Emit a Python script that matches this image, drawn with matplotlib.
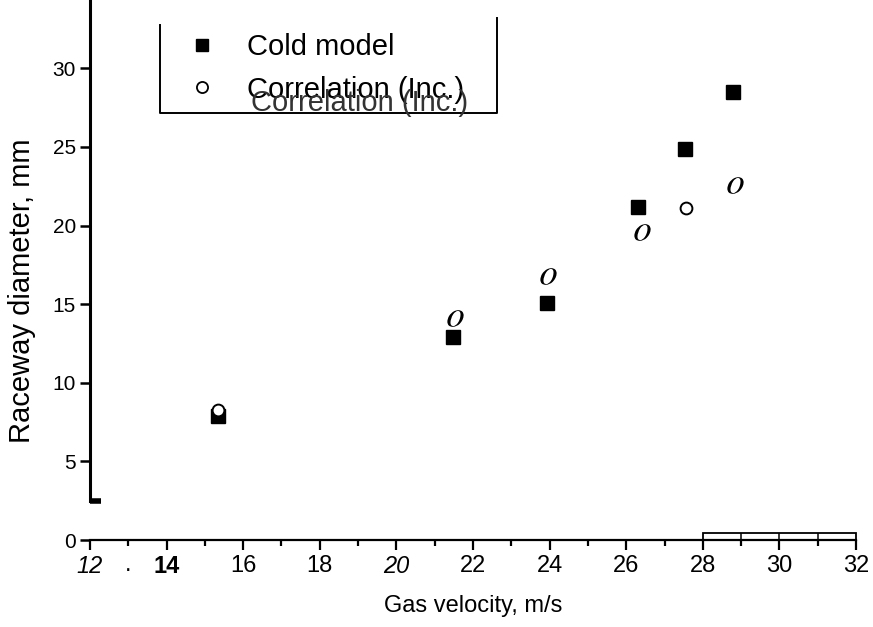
import matplotlib
matplotlib.use('Agg')
import matplotlib.pyplot as plt
from matplotlib.lines import Line2D
from matplotlib.patches import Rectangle

plt.rcParams['font.family'] = ['Liberation Sans', 'DejaVu Sans']
plt.rcParams['mathtext.fontset'] = 'stix'

# ---- data ----
velocity_cold = [15.34, 21.48, 23.93, 26.31, 27.53, 28.79]
diameter_cold = [7.9, 12.9, 15.05, 21.2, 24.85, 28.5]
velocity_corr = [15.34, 21.53, 23.96, 26.41, 27.56, 28.84]
diameter_corr = [8.3, 14.1, 16.8, 19.6, 21.1, 22.56]
series_labels = ['Cold model', 'Correlation (Inc.)']
x_major = [12, 14, 16, 18, 20, 22, 24, 26, 28, 30, 32]
x_major_labels = ['12', '14', '16', '18', '20', '22', '24', '26', '28', '30', '32']
x_minor = [13, 15, 17, 19, 21, 23, 25, 27, 29, 31]
x_minor_labels = ['.', '', '', '', '', '', '', '', '', '']
y_major = [0, 5, 10, 15, 20, 25, 30]
x_label = 'Gas velocity, m/s'
y_label = 'Raceway diameter, mm'

# marker style per correlation point (scan shows some as italic "o")
corr_markers = ['o', '$o$', '$o$', '$o$', 'o', '$o$']

W, H = 873, 627
fig = plt.figure(figsize=(W / 100, H / 100), dpi=100)
ax = fig.add_axes([90 / W, 1 - 540 / H, (856 - 90) / W, 540 / H])
ax.set_xlim(12, 32)
ax.set_ylim(0, 34.35)

# data
ax.plot(velocity_cold, diameter_cold, linestyle='none', marker='s',
        markersize=9.5, color='black', zorder=3)
for xv, yv, m in zip(velocity_corr, diameter_corr, corr_markers):
    if m == 'o':
        ax.plot([xv], [yv], linestyle='none', marker='o', markersize=8.5,
                markerfacecolor='white', markeredgecolor='black',
                markeredgewidth=1.4, zorder=4)
    else:
        ax.plot([xv], [yv], linestyle='none', marker=m, markersize=12,
                markerfacecolor='black', markeredgecolor='black',
                markeredgewidth=0, zorder=4)

# spines
for s in ['top', 'right']:
    ax.spines[s].set_visible(False)
ax.spines['left'].set_linewidth(2.2)
ax.spines['left'].set_bounds(2.5, 34.35)
ax.spines['bottom'].set_linewidth(1.6)

# ticks
ax.set_xticks(x_major, labels=x_major_labels)
ax.set_xticks(x_minor, labels=x_minor_labels, minor=True)
ax.set_yticks(y_major, labels=[str(v) for v in y_major])
ax.set_yticks([2.5], minor=True)
ax.tick_params(axis='x', which='major', direction='out', length=7, width=1.6,
               labelsize=17, pad=4)
ax.tick_params(axis='x', which='minor', direction='out', length=4, width=1.6,
               labelsize=17, pad=6)
ax.tick_params(axis='y', which='major', direction='out', length=7, width=1.8,
               labelsize=15, pad=3)
ax.tick_params(axis='y', which='minor', direction='in', length=8, width=4,
               labelleft=False)

for lab in ax.get_xticklabels():
    t = lab.get_text()
    if t in ('12', '20'):
        lab.set_fontstyle('italic')
    if t == '14':
        lab.set_fontweight('bold')

# small scanned box on the axis between 28 and 32
ax.add_patch(Rectangle((28, 0), 4, 0.42, fill=False, lw=1.3, color='black',
                       clip_on=False))
ax.vlines([29, 30, 31], 0, 0.42, color='black', lw=1.1, clip_on=False)

ax.set_xlabel(x_label, fontsize=17, labelpad=12)
ax.set_ylabel(y_label, fontsize=21)
ax.yaxis.set_label_coords(-0.070, 0.461)

# legend
handles = [
    Line2D([], [], linestyle='none', marker='s', markersize=8.5, color='black'),
    Line2D([], [], linestyle='none', marker='o', markersize=8,
           markerfacecolor='white', markeredgecolor='black', markeredgewidth=1.3),
]
leg = ax.legend(handles, series_labels, loc='upper left',
                bbox_to_anchor=(189 / W, 1 - 33 / H), bbox_transform=fig.transFigure,
                frameon=False, fontsize=21, handlelength=0.9, handletextpad=1.1,
                labelspacing=0.5, borderaxespad=0, borderpad=0)

# ghost duplicate text from the scan
fig.text(251 / W, 1 - 103 / H, series_labels[1], fontsize=21, color='#333333',
         ha='left', va='center')

# legend box (open at the top)
box_x = [160 / W, 160 / W, 497 / W, 497 / W]
box_y = [1 - 25 / H, 1 - 113 / H, 1 - 113 / H, 1 - 18 / H]
fig.add_artist(Line2D(box_x, box_y, transform=fig.transFigure, color='black', lw=1.4))

fig.savefig('out.png', dpi=100)
